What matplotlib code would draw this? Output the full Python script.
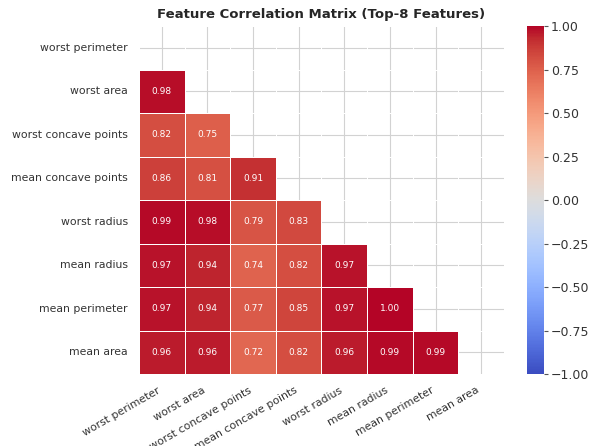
import numpy as np
import matplotlib
matplotlib.use("Agg")
import matplotlib.pyplot as plt
import seaborn as sns

# Top-8 features and their pairwise correlations (lower triangle, row by row)
features = ["worst perimeter", "worst area", "worst concave points",
            "mean concave points", "worst radius", "mean radius",
            "mean perimeter", "mean area"]
lower = [
    [],
    [0.98],
    [0.82, 0.75],
    [0.86, 0.81, 0.91],
    [0.99, 0.98, 0.79, 0.83],
    [0.97, 0.94, 0.74, 0.82, 0.97],
    [0.97, 0.94, 0.77, 0.85, 0.97, 1.00],
    [0.96, 0.96, 0.72, 0.82, 0.96, 0.99, 0.99],
]

n = len(features)
corr = np.eye(n)
for i, row in enumerate(lower):
    for j, v in enumerate(row):
        corr[i, j] = v
        corr[j, i] = v

mask = np.triu(np.ones_like(corr, dtype=bool))

sns.set_theme(style="whitegrid")
plt.rcParams['font.family'] = ['DejaVu Sans']

fig = plt.figure(figsize=(6.03, 4.46), dpi=100)
ax = fig.add_axes([0.2305, 0.1614, 0.6053, 0.7803])
cax = fig.add_axes([0.874, 0.1614, 0.028, 0.7803])

sns.heatmap(corr, mask=mask, cmap="coolwarm", vmin=-1, vmax=1,
            annot=True, fmt=".2f", annot_kws={"size": 6.5},
            linewidths=0.6, linecolor="white",
            xticklabels=features, yticklabels=features,
            ax=ax, cbar_ax=cax)

ax.set_axisbelow(True)
ax.grid(True, color="#d2d2d2", linewidth=0.8)
ax.set_title("Feature Correlation Matrix (Top-8 Features)",
             fontsize=9.5, fontweight="bold", pad=6)
ax.tick_params(axis="both", labelsize=7.8, colors="#333333", pad=2)
plt.setp(ax.get_xticklabels(), rotation=30, ha="right")
plt.setp(ax.get_yticklabels(), rotation=0)

# colorbar ticks with short marks on the right
cax.yaxis.set_ticks_position("right")
cax.yaxis.set_tick_params(which="major", right=True, length=3, width=0.8,
                          color="#555555", labelcolor="#333333",
                          labelsize=9, pad=2)

fig.savefig("out.png", dpi=100)
